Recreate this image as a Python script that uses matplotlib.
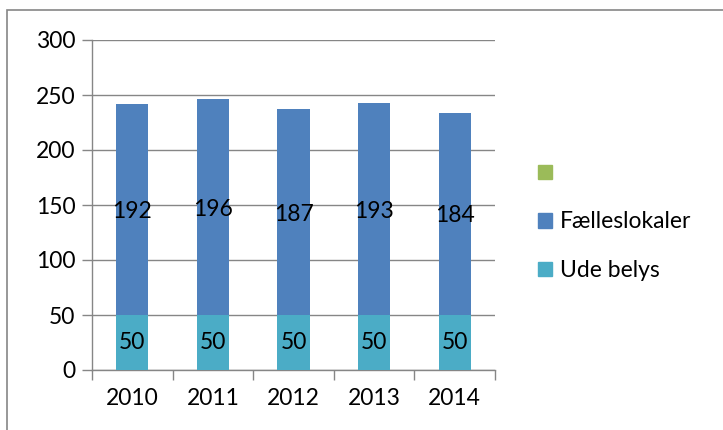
import matplotlib.pyplot as plt
from matplotlib.patches import Rectangle, Patch

years = ["2010", "2011", "2012", "2013", "2014"]
ude_belys = [50, 50, 50, 50, 50]
faelleslokaler = [192, 196, 187, 193, 184]
legend_labels = ["", "Fælleslokaler", "Ude belys"]

c_green = "#9BBB59"
c_blue = "#4F81BD"
c_teal = "#4BACC6"

fs = 16.5
plt.rcParams['font.family'] = ['Lato', 'DejaVu Sans']
fig = plt.figure(figsize=(7.23, 4.30), dpi=100)
ax = fig.add_axes([92/723, 1-370/430, (495-92)/723, 330/430])

x = list(range(len(years)))
ax.bar(x, ude_belys, width=0.4, color=c_teal, zorder=3)
ax.bar(x, faelleslokaler, width=0.4, bottom=ude_belys, color=c_blue, zorder=3)
for i in x:
    ax.text(i, ude_belys[i] / 2, str(ude_belys[i]), ha='center', va='center', fontsize=fs, zorder=4)
    ax.text(i, ude_belys[i] + faelleslokaler[i] / 2 - 2, str(faelleslokaler[i]), ha='center', va='center', fontsize=fs, zorder=4)

ax.set_xlim(-0.5, len(years) - 0.5)
ax.set_ylim(0, 300)
ax.set_yticks(range(0, 301, 50))
ax.set_xticks(x)
ax.set_xticklabels(years)
ax.set_xticks([i - 0.5 for i in range(len(years) + 1)], minor=True)
ax.tick_params(axis='x', which='major', length=0, pad=13, labelsize=fs)
ax.tick_params(axis='x', which='minor', length=7, color='#868686', width=1)
ax.tick_params(axis='y', length=7, color='#868686', width=1, labelsize=fs, pad=5)
ax.grid(axis='y', color='#868686', linewidth=1, zorder=0)
for s in ['top', 'right']:
    ax.spines[s].set_visible(False)
for s in ['left', 'bottom']:
    ax.spines[s].set_color('#868686')
    ax.spines[s].set_linewidth(1)

handles = [Patch(color=c_green), Patch(color=c_blue), Patch(color=c_teal)]
fig.legend(handles, legend_labels, loc='center left', bbox_to_anchor=(538/723, 1-222/430),
           frameon=False, fontsize=fs, handlelength=0.6, handleheight=0.6,
           handletextpad=0.35, labelspacing=1.2, borderpad=0, borderaxespad=0)

fig.patches.append(Rectangle((7/723, -0.1), 1.2, 1 - 10/430 + 0.1, transform=fig.transFigure,
                             fill=False, edgecolor='#868686', linewidth=1.2))

fig.savefig("out.png", dpi=100)
